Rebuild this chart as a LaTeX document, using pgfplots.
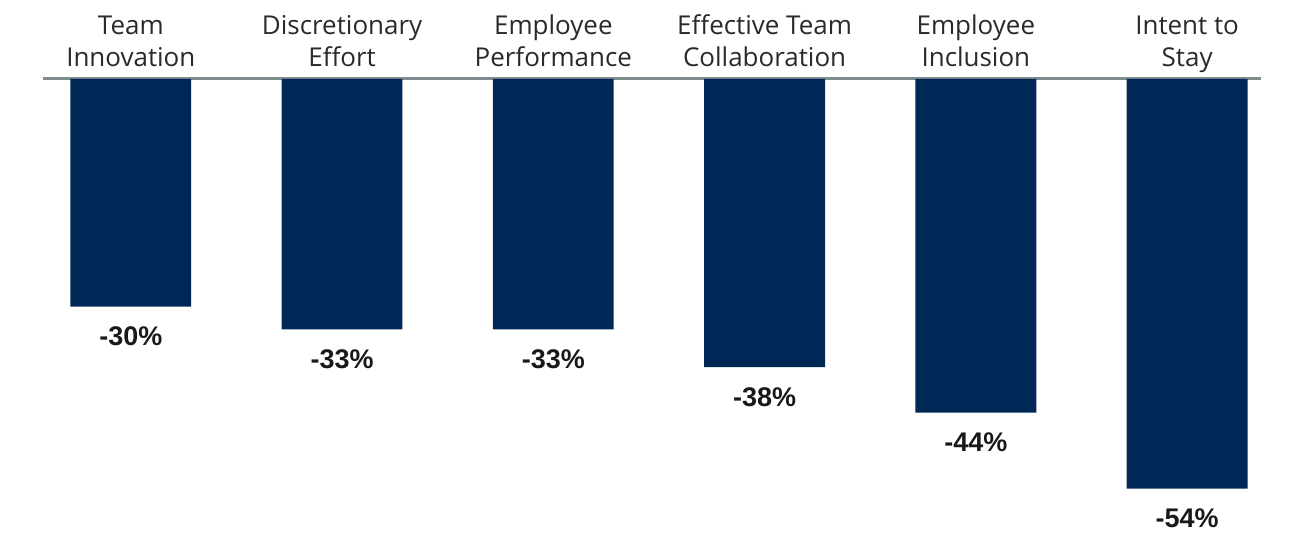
\documentclass[border=0pt]{standalone}
\usepackage{pgfplots}
\pgfplotsset{compat=1.18}
\usepackage{fontspec}
\setmainfont{Open Sans}
\newfontfamily\valfont{Liberation Sans}
\definecolor{barblue}{HTML}{002856}
\definecolor{axgray}{HTML}{7F8C8D}
\definecolor{labtxt}{HTML}{2A2A2A}
\begin{document}
\begin{tikzpicture}
\begin{axis}[
  name=ax,
  scale only axis,
  width=610bp, height=227.5bp,
  xmin=-0.416, xmax=5.35,
  ymin=-59.87, ymax=0,
  axis x line*=top,
  axis y line=none,
  x axis line style={-, draw=axgray, line width=1.4bp},
  xtick={0,1,2,3,4,5},
  xticklabels={{Team\\Innovation\strut},{Discretionary\\Effort\strut},{Employee\\Performance\strut},{Effective Team\\Collaboration\strut},{Employee\\Inclusion\strut},{Intent to\\Stay\strut}},
  xtick style={draw=none},
  xticklabel style={align=center, font=\fontsize{13bp}{16bp}\selectfont, text=labtxt, anchor=south, yshift=-6.3bp},
  ytick=\empty,
  clip=false,
  ybar, bar width=60.5bp,
  point meta=explicit symbolic,
  nodes near coords,
  every node near coord/.append style={anchor=north, yshift=-10bp, font=\valfont\bfseries\fontsize{13.5bp}{15bp}\selectfont, text=black!90, inner sep=0pt},
]
\addplot[fill=barblue, draw=none] coordinates {(0,-30) [-30\%] (1,-33) [-33\%] (2,-33) [-33\%] (3,-38) [-38\%] (4,-44) [-44\%] (5,-54) [-54\%]};
\end{axis}
\path (ax.north west) ++(-21bp,39bp) node[inner sep=0pt]{};
\path (ax.south east) ++(14bp,0) node[inner sep=0pt]{};
\end{tikzpicture}
\end{document}
